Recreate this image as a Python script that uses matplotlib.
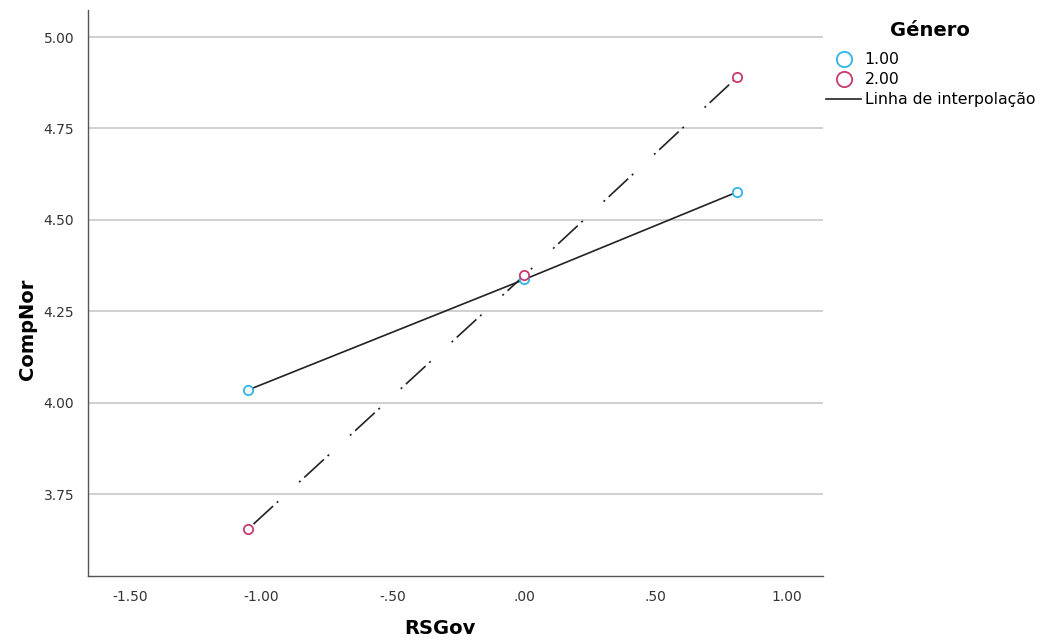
import matplotlib.pyplot as plt
from matplotlib.lines import Line2D

# RSGov levels (low / mean / high) and predicted CompNor per gender
rsgov = [-1.05, 0.00, 0.81]
comp_g1 = [4.035, 4.337, 4.576]
comp_g2 = [3.655, 4.348, 4.890]
genero = ["1.00", "2.00"]

xticks = [-1.5, -1.0, -0.5, 0.0, 0.5, 1.0]
xlabels = ["-1.50", "-1.00", "-.50", ".00", ".50", "1.00"]
yticks = [3.75, 4.00, 4.25, 4.50, 4.75, 5.00]

blue = "#2fb5ea"
pink = "#c83a70"

fig = plt.figure(figsize=(10.43, 6.41), dpi=100)
ax = fig.add_axes([88 / 1043, 1 - 576 / 641, (823 - 88) / 1043, (576 - 10) / 641])

ax.plot(rsgov, comp_g1, color="#222222", lw=1.2, ls="-", zorder=2)
# dot - dash - dot pattern for the second group
ax.plot(rsgov, comp_g2, color="#222222", lw=1.2,
        ls=(0, (1.2, 3, 16, 3, 1.2, 17)), zorder=2)
ax.scatter(rsgov, comp_g1, s=45, facecolors="white", edgecolors=blue, linewidths=1.3, zorder=3)
ax.scatter(rsgov, comp_g2, s=45, facecolors="white", edgecolors=pink, linewidths=1.3, zorder=3)

ax.set_xlim(-1.66, 1.137)
ax.set_ylim(3.526, 5.074)
ax.set_xticks(xticks)
ax.set_xticklabels(xlabels)
ax.set_yticks(yticks)
ax.set_yticklabels([f"{v:.2f}" for v in yticks])
ax.tick_params(length=0, labelsize=10, colors="#333333", pad=10)
ax.grid(axis="y", color="#c8c8c8", lw=1.2)
ax.set_axisbelow(True)
for side in ["top", "right"]:
    ax.spines[side].set_visible(False)
for side in ["left", "bottom"]:
    ax.spines[side].set_color("#555555")
    ax.spines[side].set_linewidth(1.0)

ax.set_xlabel("RSGov", fontsize=14, fontweight="bold", va="center")
ax.set_ylabel("CompNor", fontsize=14, fontweight="bold", va="center")
ax.xaxis.set_label_coords(0.479, -0.092)
ax.yaxis.set_label_coords(-0.082, 0.435)

# legend: title placed separately so it sits above the entries with a gap
fig.text(930 / 1043, 1 - 30 / 641, "Género", fontsize=14, fontweight="bold",
         ha="center", va="center")
handles = [
    Line2D([], [], marker="o", ls="none", markersize=11, markerfacecolor="white",
           markeredgecolor=blue, markeredgewidth=1.3, label=genero[0]),
    Line2D([], [], marker="o", ls="none", markersize=11, markerfacecolor="white",
           markeredgecolor=pink, markeredgewidth=1.3, label=genero[1]),
    Line2D([], [], color="#222222", lw=1.2, label="Linha de interpolação"),
]
fig.legend(handles=handles, loc="upper left", bbox_to_anchor=(820 / 1043, 1 - 46 / 641),
           frameon=False, fontsize=11.3, handlelength=2.2, handletextpad=0.25,
           labelspacing=0.32, borderaxespad=0)

fig.savefig("out.png", dpi=100)
